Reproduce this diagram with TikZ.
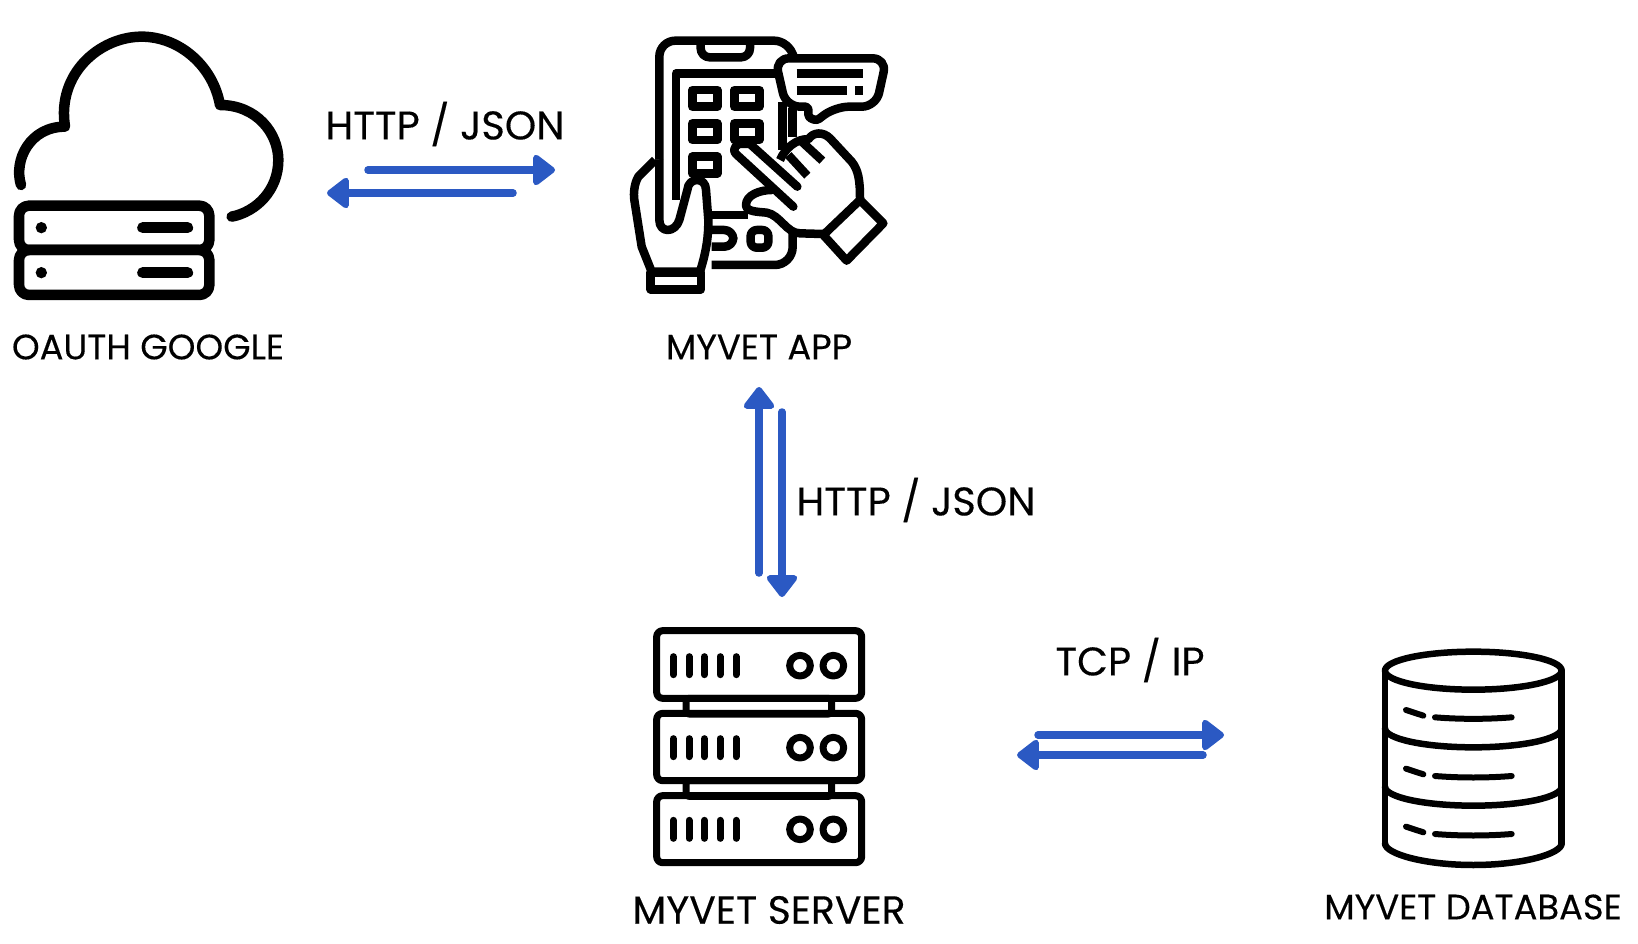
\documentclass[tikz,border=0pt]{standalone}
\usepackage{fontspec}
\setmainfont{Poppins}[FakeBold=0.25]
\usepackage{xcolor}
\definecolor{acc}{HTML}{2B59C3}
\usepackage{tikz}
\usetikzlibrary{arrows.meta,positioning,calc}
\tikzset{
  >={Triangle[length=24pt,width=35pt,round]},
  arr/.style={->,draw=acc,line width=7.5pt,line cap=round,line join=round},
  lab/.style={font=\fontsize{40}{44}\selectfont,inner sep=0pt},
  tag/.style={font=\fontsize{35.3}{40}\selectfont,inner sep=0pt},
  bigtag/.style={font=\fontsize{39.3}{44}\selectfont,inner sep=0pt},
  ic/.style={draw=black,line cap=round,line join=round},
  icA/.style={draw=black,line width=8.5pt,line join=round},
  zoomed/.style={x=0.33333pt,y=-0.33333pt},
}
\begin{document}
\begin{tikzpicture}[x=1pt,y=-1pt]
\useasboundingbox (0,0) rectangle (1638,944);
\fill[white] (0,0) rectangle (1638,944);
% cloud
\begin{scope}[shift={(0,20)},zoomed]
\draw[ic,line width=10.5pt] (63,495) .. controls (40,420) and (90,320) .. (195,320)
  .. controls (170,160) and (300,50) .. (425,50)
  .. controls (540,50) and (640,140) .. (660,255)
  .. controls (770,255) and (835,340) .. (835,420)
  .. controls (835,510) and (770,575) .. (695,590);
\draw[ic,line width=10.5pt,rounded corners=10pt] (57,557) rectangle (628,690);
\draw[ic,line width=10.5pt,rounded corners=10pt] (57,690) rectangle (628,825);
\foreach \yy in {623,758} {
  \fill (124,\yy) circle [radius=17];
  \draw[ic,line width=11pt] (428,\yy) -- (563,\yy);
}
\end{scope}
% app
\begin{scope}[shift={(600,20)},zoomed]
\draw[icA,rounded corners=16pt] (178,420) -- (178,62) -- (570,62) -- (578,100);
\draw[icA,rounded corners=9pt] (302,62) -- (302,112) -- (450,112) -- (450,62);
\draw[icA] (228,540) -- (228,160) -- (530,160);
\draw[icA] (547,245) -- (547,390);
\draw[icA] (578,265) -- (578,350);
\foreach \xx/\yy in {277/210,403/210,277/310,403/310,277/410} {
  \draw[icA] (\xx,\yy) rectangle ++(75,50);
}
% hands
\fill[white] (405,400) -- (430,372) -- (540,440) -- (580,375) -- (660,340) -- (685,350) -- (760,430) -- (780,490) -- (780,535) -- (665,640) -- (600,640) -- (525,590) -- (445,570) -- (438,550) -- (515,510) -- (580,560) -- cycle;
\draw[icA,line cap=round] (580,560) -- (408,402) .. controls (392,385) and (415,365) .. (432,372) -- (450,372) -- (592,500);
\draw[icA] (565,405) -- (622,467);
\draw[icA] (600,360) -- (667,422);
\draw[icA] (540,420) .. controls (555,385) and (590,355) .. (625,358) .. controls (640,335) and (670,335) .. (690,355) -- (755,425) .. controls (775,450) and (780,480) .. (780,535);
\draw[icA,line cap=round] (515,510) .. controls (480,510) and (438,525) .. (438,555) .. controls (438,575) and (470,575) .. (500,578) .. controls (540,585) and (560,640) .. (600,640) -- (668,642);
\draw[icA] (335,585) -- (445,585);
\draw[icA,rounded corners=18pt] (335,735) -- (578,735) -- (578,635);
\draw[icA,rounded corners=9pt] (335,630) -- (400,630) -- (400,680) -- (335,680);
\draw[icA,rounded corners=6pt] (452,630) rectangle (505,683);
\draw[icA,fill=white,miter limit=4] (780,540) -- (850,610) -- (740,722) -- (670,645) -- cycle;
\draw[icA,fill=white] (165,420) -- (115,470) .. controls (103,490) and (100,520) .. (103,540) -- (125,680) -- (155,755) -- (300,755) .. controls (320,690) and (325,650) .. (325,600) -- (318,510) .. controls (318,470) and (265,470) .. (262,510) -- (238,600) .. controls (225,640) and (178,640) .. (178,600) -- (178,420);
\draw[icA,fill=white] (152,757) rectangle (303,808);
% bubble
\draw[icA,fill=white,rounded corners=14pt] (525,115) -- (860,115) -- (828,260) -- (705,260) [rounded corners=3pt] -- (650,302) -- (625,292) -- (625,260) [rounded corners=14pt] -- (558,260) -- cycle;
\draw[icA] (590,160) -- (790,160);
\draw[icA] (590,212) -- (740,212);
\draw[icA] (765,212) -- (790,212);
\end{scope}
% server
\begin{scope}[shift={(640,620)},zoomed]
\foreach \yy/\hh in {32/203,280/202,527/201} {
  \draw[ic,line width=7pt,rounded corners=6pt] (50,\yy) rectangle (665,\yy+\hh);
}
\foreach \yy in {235,482} {
  \draw[ic,line width=7pt,rounded corners=3pt] (138,\yy) rectangle (575,\yy+47);
}
\foreach \yy in {137,383,628} {
  \foreach \xx in {100,147,193,240,288} {
    \draw[ic,line width=7pt] (\xx,\yy-27) -- (\xx,\yy+27);
  }
  \draw[ic,line width=7pt] (480,\yy) circle [radius=31];
  \draw[ic,line width=7pt] (580,\yy) circle [radius=31];
}
\end{scope}
% database
\begin{scope}[shift={(1370,640)},zoomed]
\draw[ic,line width=6.5pt] (310,92) ellipse [x radius=265,y radius=57];
\draw[ic,line width=6.5pt] (45,92) -- (45,610);
\draw[ic,line width=6.5pt] (575,92) -- (575,610);
\foreach \yy/\dd in {265/57,440/57,610/65} {
  \draw[ic,line width=6.5pt] (45,\yy) .. controls (45,\yy+32) and (165,\yy+\dd) .. (310,\yy+\dd) .. controls (455,\yy+\dd) and (575,\yy+32) .. (575,\yy);
}
\foreach \yy in {0,176,350} {
  \draw[ic,line width=6pt] (108,210+\yy) -- (160,227+\yy);
  \draw[ic,line width=6pt] (195,232+\yy) .. controls (270,238+\yy) and (350,238+\yy) .. (425,232+\yy);
}
\end{scope}
% labels
\node[tag] (oauth) at (148,347) {OAUTH GOOGLE};
\node[tag] (app) at (759,347) {MYVET APP};
\node[bigtag] (server) at (769,910) {MYVET SERVER};
\node[tag] (db) at (1473,907) {MYVET DATABASE};
\node[lab] (http1) at (445,124) {HTTP / JSON};
\node[lab] (http2) at (916,500) {HTTP / JSON};
\node[lab] (tcp) at (1130,660) {TCP / IP};
% connectors
\coordinate (oauthOut) at (368,170);
\coordinate (appIn) at (555,170);
\coordinate (appOut) at (513,193);
\coordinate (oauthIn) at (327,193);
\coordinate (srvUp) at (759,573);
\coordinate (appDown) at (759,387);
\coordinate (appUp) at (782,412);
\coordinate (srvDown) at (782,597);
\coordinate (srvOut) at (1038,735);
\coordinate (dbIn) at (1224,735);
\coordinate (dbOut) at (1203,755);
\coordinate (srvIn) at (1017,755);
\draw[arr] (oauthOut)--(appIn);
\draw[arr] (appOut)--(oauthIn);
\draw[arr] (srvUp)--(appDown);
\draw[arr] (appUp)--(srvDown);
\draw[arr] (srvOut)--(dbIn);
\draw[arr] (dbOut)--(srvIn);
\end{tikzpicture}
\end{document}
